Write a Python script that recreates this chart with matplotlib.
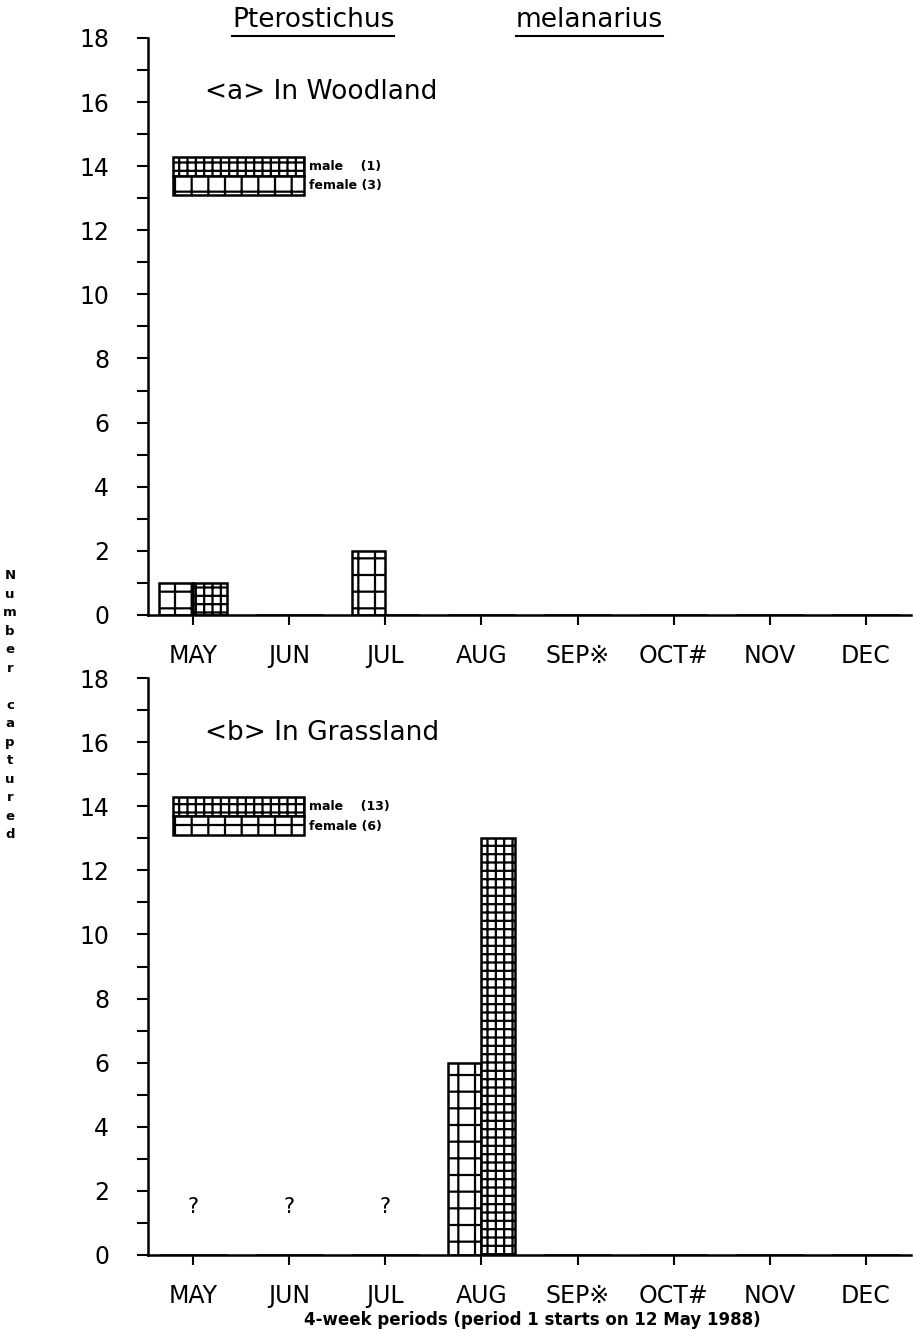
import matplotlib
matplotlib.use("Agg")
import matplotlib.pyplot as plt
from matplotlib.patches import Patch
from matplotlib.ticker import MultipleLocator

# data
months = ["MAY", "JUN", "JUL", "AUG", "SEP\u203B", "OCT#", "NOV", "DEC"]
wood_female = [1, 0, 2, 0, 0, 0, 0, 0]
wood_male = [1, 0, 0, 0, 0, 0, 0, 0]
grass_female = [0, 0, 0, 6, 0, 0, 0, 0]
grass_male = [0, 0, 0, 13, 0, 0, 0, 0]
grass_unknown = [0, 1, 2]          # months with no trapping -> "?"
wood_totals = ("male    (1)", "female (3)")
grass_totals = ("male    (13)", "female (6)")

plt.rcParams["hatch.linewidth"] = 1.6
plt.rcParams["font.family"] = ["DejaVu Sans"]

fig = plt.figure(figsize=(9.13, 13.31), dpi=100)
ax1 = fig.add_axes([0.162, 0.538, 0.836, 0.4335])
ax2 = fig.add_axes([0.162, 0.0571, 0.836, 0.4335])

bw = 0.35
x = list(range(len(months)))

def panel(ax, female, male, title, totals):
    ax.bar(x, female, width=-bw, align="edge", facecolor="white",
           edgecolor="black", linewidth=1.8, hatch="+")
    ax.bar(x, male, width=bw, align="edge", facecolor="white",
           edgecolor="black", linewidth=1.8, hatch="++")
    ax.set_xlim(-0.47, 7.47)
    ax.set_ylim(0, 18)
    ax.set_xticks(x)
    ax.set_xticklabels(months, fontsize=17)
    ax.yaxis.set_major_locator(MultipleLocator(2))
    ax.yaxis.set_minor_locator(MultipleLocator(1))
    ax.tick_params(axis="y", which="both", direction="out", length=8,
                   width=1.5, labelsize=17, pad=20)
    ax.tick_params(axis="x", direction="out", length=7, width=1.5, pad=14)
    for s in ("top", "right"):
        ax.spines[s].set_visible(False)
    for s in ("left", "bottom"):
        ax.spines[s].set_linewidth(1.8)
    ax.text(0.12, 16.3, title, fontsize=19, va="center", ha="left")

    handles = [Patch(facecolor="white", edgecolor="black", linewidth=1.8, hatch="++"),
               Patch(facecolor="white", edgecolor="black", linewidth=1.8, hatch="+")]
    ax.legend(handles, totals, loc="upper left", bbox_to_anchor=(-0.21, 14.3),
              bbox_transform=ax.transData, frameon=False, borderpad=0,
              borderaxespad=0, handlelength=10.5, handleheight=2.0,
              labelspacing=0, handletextpad=0.4,
              prop={"size": 9, "weight": "bold"})

panel(ax1, wood_female, wood_male, "<a> In Woodland", wood_totals)
panel(ax2, grass_female, grass_male, "<b> In Grassland", grass_totals)

for i in grass_unknown:
    ax2.text(i, 1.5, "?", fontsize=15, ha="center", va="center")

# title with underlined words
t1 = fig.text(0.254, 0.985, "Pterostichus", fontsize=19, ha="left", va="center")
t2 = fig.text(0.565, 0.985, "melanarius", fontsize=19, ha="left", va="center")
fig.canvas.draw()
r = fig.canvas.get_renderer()
for t in (t1, t2):
    bb = t.get_window_extent(r).transformed(fig.transFigure.inverted())
    fig.add_artist(plt.Line2D([bb.x0, bb.x1], [bb.y0 - 0.002, bb.y0 - 0.002],
                              color="black", linewidth=1.5,
                              transform=fig.transFigure))

fig.text(0.011, 0.47, "\n".join("Number captured"), fontsize=9.5,
         fontweight="bold", ha="center", va="center", linespacing=1.55)

fig.text(0.583, 0.008, "4-week periods (period 1 starts on 12 May 1988)",
         fontsize=12, fontweight="bold", ha="center", va="center")

fig.savefig("out.png", dpi=100)
